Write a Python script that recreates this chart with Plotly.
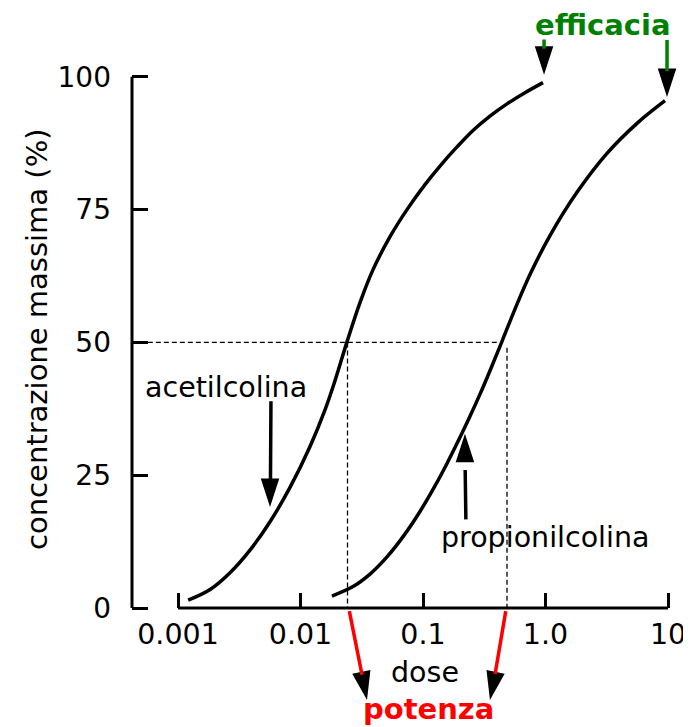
import math

import plotly.graph_objects as go

# curve points (dose, % of max)
dose_acetil = [0.00121, 0.00183, 0.00266, 0.00387, 0.00564, 0.00821, 0.01196,
               0.01585, 0.01913, 0.02396, 0.0306, 0.0391, 0.0538, 0.0740,
               0.1038, 0.1376, 0.1895, 0.2559, 0.3522, 0.4850, 0.680, 0.954]
resp_acetil = [1.5, 3.5, 6.65, 10.9, 16.25, 22.7, 30.4,
               37.3, 42.8, 50.1, 57.5, 63.7, 69.9, 75.0,
               79.7, 83.2, 86.8, 89.9, 92.6, 94.9, 97.0, 98.9]

dose_propio = [0.01807, 0.02683, 0.03693, 0.05082, 0.06997, 0.09452, 0.1253,
               0.1570, 0.2005, 0.2419, 0.2920, 0.3522, 0.4416, 0.5636,
               0.7470, 1.088, 1.807, 3.177, 5.585, 9.45]
resp_propio = [2.26, 4.03, 6.38, 9.62, 13.67, 18.17, 22.98,
               27.21, 32.13, 36.10, 40.26, 44.67, 50.21, 56.27,
               62.77, 70.11, 78.25, 85.59, 91.24, 95.5]

x_tickvals = [0.001, 0.01, 0.1, 1.0, 10]
x_ticktext = ["0.001", "0.01", "0.1", "1.0", "10"]
y_tickvals = [0, 25, 50, 75, 100]

# dashed guides at 50 %
guide_h_x = [0.00042, 0.40]
guide_h_y = [50, 50]
guide_v1_x = [0.0242, 0.0242]
guide_v1_y = [50, 0]
guide_v2_x = [0.485, 0.485]
guide_v2_y = [49, 0]

# arrow heads (tip position, direction)
head_x = [0.00564, 0.220, 0.973, 9.82, 0.0349, 0.352]
head_y = [19.0, 32.8, 100.4, 96.2, -17.3, -17.3]
head_angle = [180, 0, 180, 180, 168.6, 191.4]

# arrow shafts: (tail x, tail y, end x, end y, colour)
shafts = [
    (0.00574, 39.2, 0.00568, 22.0, "black"),
    (0.224, 16.4, 0.221, 26.0, "black"),
    (0.973, 107.3, 0.973, 105.3, "#008000"),
    (9.82, 107.2, 9.82, 101.1, "#008000"),
    (0.0249, -0.3, 0.0318, -12.6, "#ff0000"),
    (0.476, -0.3, 0.388, -12.4, "#ff0000"),
]

FONT = "DejaVu Sans"
NERO = "black"

fig = go.Figure()

for gx, gy in [(guide_h_x, guide_h_y), (guide_v1_x, guide_v1_y), (guide_v2_x, guide_v2_y)]:
    fig.add_trace(go.Scatter(x=gx, y=gy, mode="lines",
                             line=dict(color=NERO, width=1.3, dash="5px,3px")))

# asse x disegnato come linea (parte da 0.001)
fig.add_trace(go.Scatter(x=[x_tickvals[0], x_tickvals[-1]], y=[0, 0], mode="lines",
                         line=dict(color=NERO, width=3)))

fig.add_trace(go.Scatter(x=dose_acetil, y=resp_acetil, mode="lines",
                         line=dict(color=NERO, width=3.5, shape="spline")))
fig.add_trace(go.Scatter(x=dose_propio, y=resp_propio, mode="lines",
                         line=dict(color=NERO, width=3.5, shape="spline")))

fig.add_trace(go.Scatter(x=head_x, y=head_y, mode="markers", cliponaxis=False,
                         marker=dict(symbol="arrow", size=30, angle=head_angle,
                                     color=NERO, line=dict(width=0))))

for tx, ty, ex, ey, col in shafts:
    fig.add_annotation(x=math.log10(ex), y=ey, ax=math.log10(tx), ay=ty,
                       xref="x", yref="y", axref="x", ayref="y",
                       text="", showarrow=True, arrowhead=0,
                       arrowwidth=3.5, arrowcolor=col, standoff=0, startstandoff=0)

testi = [
    dict(text="acetilcolina", x=math.log10(0.00247), y=41.6, yref="y",
         font=dict(size=28.5, color=NERO, family=FONT)),
    dict(text="propionilcolina", x=math.log10(0.99), y=13.2, yref="y",
         font=dict(size=28.5, color=NERO, family=FONT)),
    dict(text="<b>efficacia</b>", x=math.log10(2.94), y=1.0057, yref="paper",
         font=dict(size=29, color="#008000", family=FONT)),
    dict(text="<b>potenza</b>", x=math.log10(0.11), y=-19.1, yref="y",
         font=dict(size=29, color="#ff0000", family=FONT)),
    dict(text="dose", x=math.log10(0.104), y=-12.2, yref="y",
         font=dict(size=28.5, color=NERO, family=FONT)),
]
for t in testi:
    fig.add_annotation(xref="x", showarrow=False, xanchor="center", yanchor="middle", **t)

fig.add_annotation(text="concentrazione massima (%)", textangle=-90,
                   x=-0.173, xref="paper", y=50.5, yref="y",
                   showarrow=False, xanchor="center", yanchor="middle",
                   font=dict(size=29, color=NERO, family=FONT))

# asse y: linea da 0 a 100
fig.add_shape(type="line", xref="paper", yref="y", x0=0, x1=0, y0=0, y1=100,
              line=dict(color=NERO, width=3))

# la pagina ha 8px di margine: figura ridotta di 8px
fig.update_layout(
    width=683, height=719,
    margin=dict(l=124, r=11, t=21, b=0),
    plot_bgcolor="white", paper_bgcolor="white",
    showlegend=False,
    font=dict(family=FONT, color=NERO),
    xaxis=dict(type="log", range=[-3.3755, 1.098],
               tickvals=x_tickvals, ticktext=x_ticktext,
               ticks="inside", ticklen=15, tickwidth=3, tickcolor=NERO,
               tickfont=dict(size=28.5, family=FONT, color=NERO),
               ticklabelstandoff=7,
               anchor="free", position=0.1705,
               showgrid=False, zeroline=False, showline=False, automargin=False),
    yaxis=dict(range=[-22.4, 109], tickvals=y_tickvals,
               ticks="inside", ticklen=16, tickwidth=3, tickcolor=NERO,
               tickfont=dict(size=28, family=FONT, color=NERO),
               ticklabelstandoff=20,
               showgrid=False, zeroline=False, showline=False, automargin=False),
)

fig.write_html("out.html")
